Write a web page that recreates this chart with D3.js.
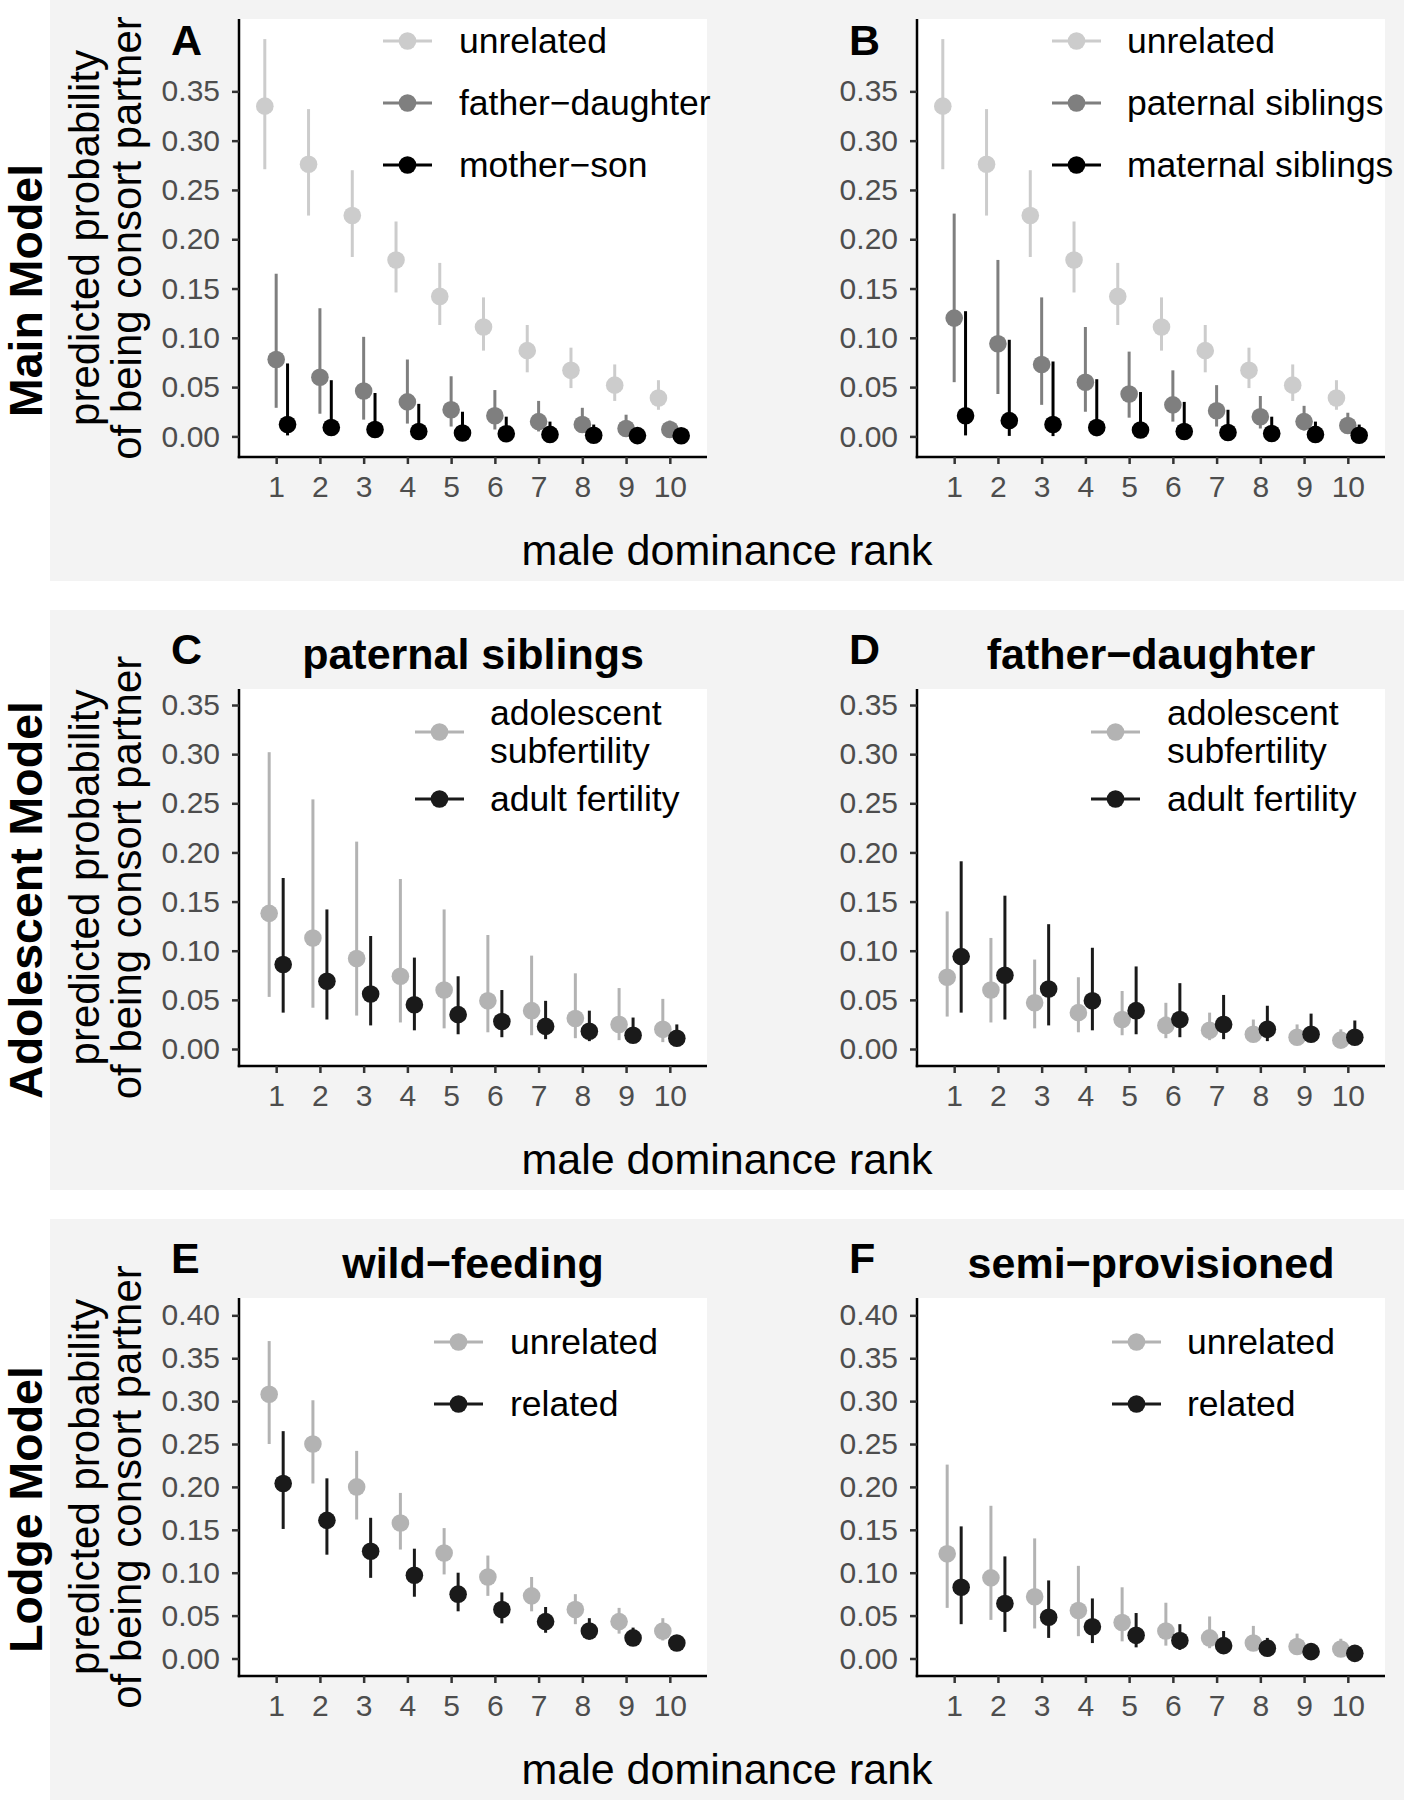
<!DOCTYPE html>
<html>
<head>
<meta charset="utf-8">
<script src="https://cdn.jsdelivr.net/npm/d3@7"></script>
<style>
  html, body { margin: 0; padding: 0; background: #ffffff; }
  svg { display: block; font-family: "Liberation Sans", Arial, sans-serif; }
</style>
</head>
<body>
<svg id="chart" width="1404" height="1800"></svg>
<script>
// ---------------- DATA ----------------
const ranks = [1, 2, 3, 4, 5, 6, 7, 8, 9, 10];
const yTicks035 = [0, 0.05, 0.10, 0.15, 0.20, 0.25, 0.30, 0.35];
const yTicks040 = [0, 0.05, 0.10, 0.15, 0.20, 0.25, 0.30, 0.35, 0.40];

// Main model (A, B) – unrelated
const mainUnrelatedEst = [0.335, 0.276, 0.224, 0.179, 0.142, 0.111, 0.087, 0.067, 0.052, 0.039];
const mainUnrelatedLo  = [0.271, 0.224, 0.182, 0.146, 0.113, 0.087, 0.065, 0.049, 0.036, 0.027];
const mainUnrelatedHi  = [0.403, 0.332, 0.270, 0.218, 0.176, 0.141, 0.113, 0.090, 0.073, 0.057];
// A – father-daughter
const fatherDaughterEst = [0.078, 0.060, 0.046, 0.035, 0.027, 0.021, 0.015, 0.012, 0.008, 0.007];
const fatherDaughterLo  = [0.029, 0.023, 0.017, 0.013, 0.010, 0.007, 0.005, 0.004, 0.003, 0.002];
const fatherDaughterHi  = [0.165, 0.130, 0.101, 0.078, 0.061, 0.047, 0.036, 0.029, 0.022, 0.016];
// A – mother-son
const motherSonEst = [0.012, 0.009, 0.007, 0.005, 0.0035, 0.0027, 0.002, 0.0012, 0.0008, 0.0006];
const motherSonLo  = [0.001, 0.0005, 0.0003, 0.0002, 0.0002, 0.0001, 0.0001, 0.0001, 0.0, 0.0];
const motherSonHi  = [0.074, 0.057, 0.044, 0.033, 0.025, 0.020, 0.015, 0.012, 0.008, 0.005];
// B – paternal siblings
const paternalSibEst = [0.120, 0.094, 0.073, 0.055, 0.043, 0.032, 0.026, 0.020, 0.015, 0.011];
const paternalSibLo  = [0.055, 0.043, 0.032, 0.025, 0.019, 0.015, 0.010, 0.008, 0.006, 0.004];
const paternalSibHi  = [0.226, 0.179, 0.141, 0.111, 0.086, 0.067, 0.052, 0.041, 0.031, 0.024];
// B – maternal siblings
const maternalSibEst = [0.021, 0.016, 0.012, 0.009, 0.0065, 0.005, 0.004, 0.003, 0.002, 0.0012];
const maternalSibLo  = [0.001, 0.0005, 0.0003, 0.0002, 0.0002, 0.0001, 0.0001, 0.0001, 0.0, 0.0];
const maternalSibHi  = [0.127, 0.098, 0.076, 0.058, 0.045, 0.035, 0.027, 0.020, 0.015, 0.012];

// Adolescent model C – paternal siblings
const cAdolEst = [0.138, 0.113, 0.092, 0.074, 0.060, 0.049, 0.039, 0.031, 0.025, 0.020];
const cAdolLo  = [0.053, 0.042, 0.034, 0.027, 0.021, 0.017, 0.014, 0.011, 0.009, 0.007];
const cAdolHi  = [0.302, 0.254, 0.211, 0.173, 0.142, 0.116, 0.095, 0.077, 0.062, 0.051];
const cAdultEst = [0.086, 0.069, 0.056, 0.045, 0.035, 0.028, 0.023, 0.018, 0.014, 0.011];
const cAdultLo  = [0.037, 0.030, 0.024, 0.019, 0.015, 0.012, 0.010, 0.008, 0.007, 0.006];
const cAdultHi  = [0.174, 0.142, 0.115, 0.093, 0.074, 0.060, 0.049, 0.039, 0.032, 0.025];
// Adolescent model D – father-daughter
const dAdolEst = [0.073, 0.060, 0.047, 0.037, 0.030, 0.024, 0.019, 0.015, 0.012, 0.009];
const dAdolLo  = [0.033, 0.027, 0.021, 0.017, 0.014, 0.011, 0.009, 0.007, 0.006, 0.005];
const dAdolHi  = [0.140, 0.113, 0.091, 0.073, 0.059, 0.047, 0.037, 0.030, 0.025, 0.020];
const dAdultEst = [0.094, 0.075, 0.061, 0.049, 0.039, 0.030, 0.025, 0.020, 0.015, 0.012];
const dAdultLo  = [0.037, 0.030, 0.024, 0.019, 0.015, 0.012, 0.010, 0.008, 0.007, 0.006];
const dAdultHi  = [0.191, 0.156, 0.127, 0.103, 0.084, 0.067, 0.055, 0.044, 0.036, 0.029];

// Lodge model E – wild-feeding
const eUnrelEst = [0.308, 0.250, 0.200, 0.158, 0.123, 0.095, 0.073, 0.057, 0.043, 0.032];
const eUnrelLo  = [0.250, 0.204, 0.162, 0.127, 0.098, 0.073, 0.055, 0.040, 0.029, 0.021];
const eUnrelHi  = [0.370, 0.301, 0.242, 0.193, 0.152, 0.120, 0.095, 0.075, 0.059, 0.047];
const eRelEst = [0.204, 0.161, 0.125, 0.097, 0.075, 0.057, 0.043, 0.032, 0.024, 0.018];
const eRelLo  = [0.151, 0.121, 0.094, 0.072, 0.055, 0.041, 0.030, 0.022, 0.015, 0.012];
const eRelHi  = [0.265, 0.210, 0.164, 0.128, 0.100, 0.077, 0.060, 0.047, 0.036, 0.026];
// Lodge model F – semi-provisioned
const fUnrelEst = [0.122, 0.094, 0.072, 0.056, 0.042, 0.032, 0.024, 0.018, 0.014, 0.011];
const fUnrelLo  = [0.059, 0.045, 0.035, 0.026, 0.020, 0.015, 0.012, 0.010, 0.008, 0.006];
const fUnrelHi  = [0.226, 0.178, 0.140, 0.108, 0.083, 0.065, 0.049, 0.038, 0.029, 0.023];
const fRelEst = [0.083, 0.064, 0.048, 0.037, 0.027, 0.021, 0.015, 0.012, 0.008, 0.006];
const fRelLo  = [0.040, 0.031, 0.024, 0.018, 0.013, 0.010, 0.008, 0.007, 0.005, 0.004];
const fRelHi  = [0.154, 0.119, 0.091, 0.070, 0.053, 0.040, 0.032, 0.024, 0.018, 0.014];

// ---------------- STYLE / LAYOUT ----------------
const C_LIGHT1 = "#cccccc", C_MID = "#7f7f7f", C_BLACK = "#000000";
const C_LIGHT2 = "#b3b3b3", C_DARK2 = "#1a1a1a";
const BAND_BG = "#f3f3f3";

const bands = [
  { y0: 0,    y1: 581,  label: "Main Model" },
  { y0: 610,  y1: 1190, label: "Adolescent Model" },
  { y0: 1219, y1: 1800, label: "Lodge Model" }
];
const colX = [239, 917];
const panelW = 468;
const bandPlot = [
  { top: 19,   bottom: 457,  ydom: [-0.0209, 0.4234], ticks: yTicks035 },
  { top: 689,  bottom: 1066, ydom: [-0.0173, 0.3663], ticks: yTicks035 },
  { top: 1298, bottom: 1676, ydom: [-0.0204, 0.4202], ticks: yTicks040 }
];

const panels = [
  { letter: "A", title: null, band: 0, col: 0, keyX: 144, textX: 220, keyYs: [22, 84, 146],
    series: [
      { name: ["unrelated"], color: C_LIGHT1, est: mainUnrelatedEst, lo: mainUnrelatedLo, hi: mainUnrelatedHi, off: -0.26 },
      { name: ["father\u2212daughter"], color: C_MID, est: fatherDaughterEst, lo: fatherDaughterLo, hi: fatherDaughterHi, off: 0 },
      { name: ["mother\u2212son"], color: C_BLACK, est: motherSonEst, lo: motherSonLo, hi: motherSonHi, off: 0.26 }
    ] },
  { letter: "B", title: null, band: 0, col: 1, keyX: 135, textX: 210, keyYs: [22, 84, 146],
    series: [
      { name: ["unrelated"], color: C_LIGHT1, est: mainUnrelatedEst, lo: mainUnrelatedLo, hi: mainUnrelatedHi, off: -0.26 },
      { name: ["paternal siblings"], color: C_MID, est: paternalSibEst, lo: paternalSibLo, hi: paternalSibHi, off: 0 },
      { name: ["maternal siblings"], color: C_BLACK, est: maternalSibEst, lo: maternalSibLo, hi: maternalSibHi, off: 0.26 }
    ] },
  { letter: "C", title: "paternal siblings", band: 1, col: 0, keyX: 176, textX: 251, keyYs: [43, 110],
    series: [
      { name: ["adolescent", "subfertility"], color: C_LIGHT2, est: cAdolEst, lo: cAdolLo, hi: cAdolHi, off: -0.16 },
      { name: ["adult fertility"], color: C_DARK2, est: cAdultEst, lo: cAdultLo, hi: cAdultHi, off: 0.16 }
    ] },
  { letter: "D", title: "father\u2212daughter", band: 1, col: 1, keyX: 174, textX: 250, keyYs: [43, 110],
    series: [
      { name: ["adolescent", "subfertility"], color: C_LIGHT2, est: dAdolEst, lo: dAdolLo, hi: dAdolHi, off: -0.16 },
      { name: ["adult fertility"], color: C_DARK2, est: dAdultEst, lo: dAdultLo, hi: dAdultHi, off: 0.16 }
    ] },
  { letter: "E", title: "wild\u2212feeding", band: 2, col: 0, keyX: 195, textX: 271, keyYs: [44, 106],
    series: [
      { name: ["unrelated"], color: C_LIGHT2, est: eUnrelEst, lo: eUnrelLo, hi: eUnrelHi, off: -0.16 },
      { name: ["related"], color: C_DARK2, est: eRelEst, lo: eRelLo, hi: eRelHi, off: 0.16 }
    ] },
  { letter: "F", title: "semi\u2212provisioned", band: 2, col: 1, keyX: 195, textX: 270, keyYs: [44, 106],
    series: [
      { name: ["unrelated"], color: C_LIGHT2, est: fUnrelEst, lo: fUnrelLo, hi: fUnrelHi, off: -0.16 },
      { name: ["related"], color: C_DARK2, est: fRelEst, lo: fRelLo, hi: fRelHi, off: 0.16 }
    ] }
];

// ---------------- DRAW ----------------
const svg = d3.select("#chart");
svg.append("rect").attr("x", 0).attr("y", 0).attr("width", 1404).attr("height", 1800).attr("fill", "#ffffff");

bands.forEach(b => {
  svg.append("rect").attr("x", 50).attr("y", b.y0).attr("width", 1404 - 50).attr("height", b.y1 - b.y0).attr("fill", BAND_BG);
  const cy = (b.y0 + b.y1) / 2;
  svg.append("text")
    .attr("transform", `translate(42,${cy}) rotate(-90)`)
    .attr("text-anchor", "middle")
    .attr("font-size", 46.5).attr("font-weight", "bold").attr("fill", "#000")
    .text(b.label);
});

const fmt = d3.format(".2f");
const PT_R = 8.8, LW = 3;

panels.forEach(p => {
  const bp = bandPlot[p.band];
  const band = bands[p.band];
  const x0 = colX[p.col];
  const x = d3.scaleLinear().domain([0.15, 10.85]).range([x0, x0 + panelW]);
  const y = d3.scaleLinear().domain(bp.ydom).range([bp.bottom, bp.top]);

  // panel background
  svg.append("rect").attr("x", x0).attr("y", bp.top).attr("width", panelW).attr("height", bp.bottom - bp.top).attr("fill", "#ffffff");

  const g = svg.append("g");

  // series
  p.series.forEach(s => {
    const sg = g.append("g");
    ranks.forEach((r, i) => {
      sg.append("line")
        .attr("x1", x(r + s.off)).attr("x2", x(r + s.off))
        .attr("y1", y(s.lo[i])).attr("y2", y(s.hi[i]))
        .attr("stroke", s.color).attr("stroke-width", LW);
      sg.append("circle")
        .attr("cx", x(r + s.off)).attr("cy", y(s.est[i])).attr("r", PT_R)
        .attr("fill", s.color);
    });
  });

  // axes
  const yAxis = d3.axisLeft(y).tickValues(bp.ticks).tickFormat(fmt).tickSize(7).tickSizeOuter(0).tickPadding(12);
  const xAxis = d3.axisBottom(x).tickValues(ranks).tickFormat(d3.format("d")).tickSize(7).tickSizeOuter(0).tickPadding(12);
  const ya = svg.append("g").attr("transform", `translate(${x0},0)`).call(yAxis);
  const xa = svg.append("g").attr("transform", `translate(0,${bp.bottom})`).call(xAxis);
  [ya, xa].forEach(a => {
    a.select(".domain").attr("stroke", "#000").attr("stroke-width", 2.5);
    a.selectAll(".tick line").attr("stroke", "#333").attr("stroke-width", 2.5);
    a.selectAll(".tick text").attr("fill", "#4d4d4d").attr("font-size", 30)
      .attr("font-family", "'Liberation Sans', Arial, sans-serif");
  });
  ya.select(".domain").attr("d", `M0,${bp.top}V${bp.bottom + 1.25}`);
  xa.select(".domain").attr("d", `M${x0 - 1.25},0H${x0 + panelW}`);

  // legend
  p.series.forEach((s, k) => {
    const ky = bp.top + p.keyYs[k];
    const kx = x0 + p.keyX;
    g.append("line").attr("x1", kx).attr("x2", kx + 49).attr("y1", ky).attr("y2", ky)
      .attr("stroke", s.color).attr("stroke-width", LW);
    g.append("circle").attr("cx", kx + 24.5).attr("cy", ky).attr("r", PT_R).attr("fill", s.color);
    const t = g.append("text").attr("x", x0 + p.textX).attr("font-size", 35.5).attr("fill", "#000");
    if (s.name.length === 1) {
      t.attr("y", ky + 12).text(s.name[0]);
    } else {
      t.append("tspan").attr("x", x0 + p.textX).attr("y", ky - 7).text(s.name[0]);
      t.append("tspan").attr("x", x0 + p.textX).attr("y", ky + 31).text(s.name[1]);
    }
  });

  // panel letter
  svg.append("text").attr("x", x0 - 68).attr("y", band.y0 + (p.title ? 54 : 55))
    .attr("font-size", 43).attr("font-weight", "bold").attr("fill", "#000").text(p.letter);
  // panel title
  if (p.title) {
    svg.append("text").attr("x", x0 + panelW / 2).attr("y", band.y0 + 59)
      .attr("text-anchor", "middle").attr("font-size", 43).attr("font-weight", "bold").attr("fill", "#000")
      .text(p.title);
  }

  // y-axis title (left column only)
  if (p.col === 0) {
    const cy = (bp.top + bp.bottom) / 2;
    svg.append("text").attr("transform", `translate(99,${cy}) rotate(-90)`)
      .attr("text-anchor", "middle").attr("font-size", 42).attr("fill", "#000").text("predicted probability");
    svg.append("text").attr("transform", `translate(141,${cy}) rotate(-90)`)
      .attr("text-anchor", "middle").attr("font-size", 42).attr("fill", "#000").text("of being consort partner");
  }
});

// x-axis titles, one per band
bandPlot.forEach(bp => {
  svg.append("text").attr("x", 727).attr("y", bp.bottom + 108)
    .attr("text-anchor", "middle").attr("font-size", 43).attr("fill", "#000").text("male dominance rank");
});
</script>
</body>
</html>
